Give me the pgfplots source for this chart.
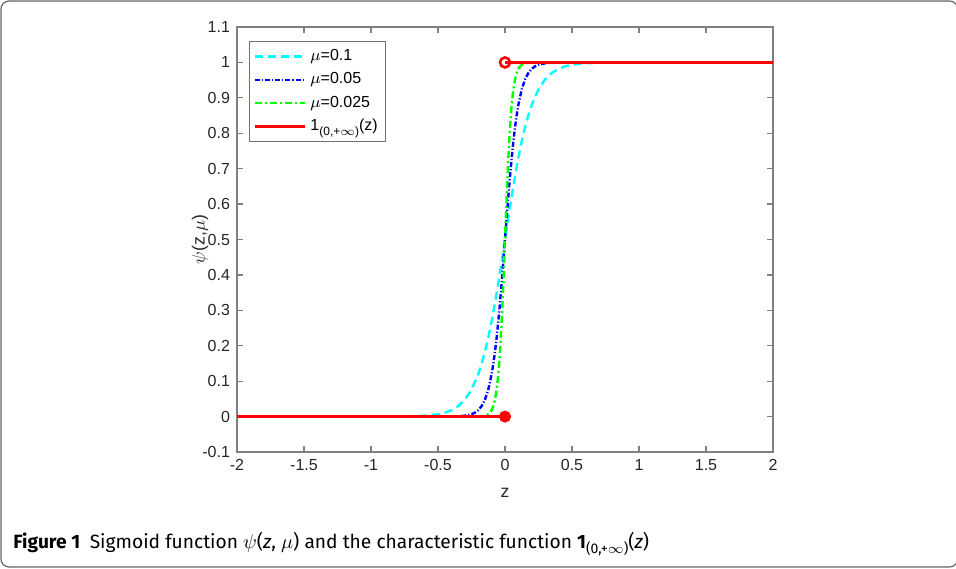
\documentclass[border=0pt]{standalone}
\usepackage{fontspec}
\setmainfont{Liberation Sans}
\newfontfamily\capfont{Fira Sans}
\usepackage{pgfplots}
\pgfplotsset{compat=1.18}
\definecolor{mcyan}{rgb}{0,1,1}
\definecolor{mblue}{rgb}{0,0,1}
\definecolor{mgreen}{rgb}{0,1,0}
\definecolor{mred}{rgb}{1,0,0}

\begin{document}
\begin{tikzpicture}
\useasboundingbox (0,0) rectangle (478pt,284pt);
\draw[black!60, line width=0.6pt, rounded corners=4pt] (0.5pt,0.5pt) rectangle (478.8pt,283.5pt);
\begin{axis}[
  at={(118.5pt,58pt)}, anchor=south west,
  scale only axis, width=268pt, height=212.5pt,
  xmin=-2, xmax=2, ymin=-0.1, ymax=1.1,
  xtick={-2,-1.5,-1,-0.5,0,0.5,1,1.5,2},
  xticklabels={-2,-1.5,-1,-0.5,0,0.5,1,1.5,2},
  ytick={-0.1,0,0.1,0.2,0.3,0.4,0.5,0.6,0.7,0.8,0.9,1,1.1},
  yticklabels={-0.1,0,0.1,0.2,0.3,0.4,0.5,0.6,0.7,0.8,0.9,1,1.1},
  tick align=inside, major tick length=3pt,
  axis line style={black!50, line width=0.6pt},
  every tick/.style={black!50, line width=0.6pt},
  tick label style={font=\fontsize{8}{9}\selectfont, text=black!85},
  xlabel={z}, ylabel={$\psi$(z,$\mu$)},
  label style={font=\fontsize{8.8}{10}\selectfont, text=black!85},
  xlabel style={at={(axis description cs:0.5,-0.0965)}, anchor=center},
  ylabel style={at={(axis description cs:-0.069,0.5)}, anchor=center},
  legend style={at={(rel axis cs:0.022,0.967)}, anchor=north west,
    draw=black!55, line width=0.5pt, font=\fontsize{8}{9}\selectfont,
    inner xsep=2pt, inner ysep=2pt, row sep=0.5pt},
  legend cell align=left,
  legend image code/.code={\draw[#1] (0pt,0pt) -- (25pt,0pt);},
]
% mu = 0.1
\addplot[mcyan, line width=1.2pt, dash pattern=on 4pt off 2.5pt] coordinates {
(-2,0) (-1,0.0000454) (-0.8,0.000335) (-0.7,0.000911) (-0.6,0.002473) (-0.5,0.006693)
(-0.45,0.010987) (-0.4,0.017986) (-0.35,0.029312) (-0.3,0.047426) (-0.25,0.075858)
(-0.2,0.119203) (-0.175,0.148047) (-0.15,0.182426) (-0.125,0.2227) (-0.1,0.268941)
(-0.075,0.320821) (-0.05,0.377541) (-0.025,0.437823) (0,0.5)
(0.025,0.562177) (0.05,0.622459) (0.075,0.679179) (0.1,0.731059) (0.125,0.7773)
(0.15,0.817574) (0.175,0.851953) (0.2,0.880797) (0.25,0.924142) (0.3,0.952574)
(0.35,0.970688) (0.4,0.982014) (0.45,0.989013) (0.5,0.993307) (0.6,0.997527)
(0.7,0.999089) (0.8,0.999665) (1,0.999955) (2,1)};
\addlegendentry{$\mu$=0.1}
% mu = 0.05
\addplot[mblue, line width=1.2pt, dash pattern=on 2.5pt off 1pt on 0.6pt off 1pt] coordinates {
(-2,0) (-0.5,0.0000454) (-0.4,0.000335) (-0.35,0.000911) (-0.3,0.002473) (-0.25,0.006693)
(-0.225,0.010987) (-0.2,0.017986) (-0.175,0.029312) (-0.15,0.047426) (-0.125,0.075858)
(-0.1,0.119203) (-0.0875,0.148047) (-0.075,0.182426) (-0.0625,0.2227) (-0.05,0.268941)
(-0.0375,0.320821) (-0.025,0.377541) (-0.0125,0.437823) (0,0.5)
(0.0125,0.562177) (0.025,0.622459) (0.0375,0.679179) (0.05,0.731059) (0.0625,0.7773)
(0.075,0.817574) (0.0875,0.851953) (0.1,0.880797) (0.125,0.924142) (0.15,0.952574)
(0.175,0.970688) (0.2,0.982014) (0.225,0.989013) (0.25,0.993307) (0.3,0.997527)
(0.35,0.999089) (0.4,0.999665) (0.5,0.999955) (2,1)};
\addlegendentry{$\mu$=0.05}
% mu = 0.025
\addplot[mgreen, line width=1.2pt, dash pattern=on 3.5pt off 1.5pt on 1pt off 1.5pt] coordinates {
(-2,0) (-0.25,0.0000454) (-0.2,0.000335) (-0.175,0.000911) (-0.15,0.002473) (-0.125,0.006693)
(-0.1125,0.010987) (-0.1,0.017986) (-0.0875,0.029312) (-0.075,0.047426) (-0.0625,0.075858)
(-0.05,0.119203) (-0.04375,0.148047) (-0.0375,0.182426) (-0.03125,0.2227) (-0.025,0.268941)
(-0.01875,0.320821) (-0.0125,0.377541) (-0.00625,0.437823) (0,0.5)
(0.00625,0.562177) (0.0125,0.622459) (0.01875,0.679179) (0.025,0.731059) (0.03125,0.7773)
(0.0375,0.817574) (0.04375,0.851953) (0.05,0.880797) (0.0625,0.924142) (0.075,0.952574)
(0.0875,0.970688) (0.1,0.982014) (0.1125,0.989013) (0.125,0.993307) (0.15,0.997527)
(0.175,0.999089) (0.2,0.999665) (0.25,0.999955) (2,1)};
\addlegendentry{$\mu$=0.025}
% characteristic function
\addplot[mred, line width=1.6pt] coordinates {(-2,0) (0,0)};
\addlegendentry{1\raisebox{-0.6ex}{\fontsize{6}{7}\selectfont(0,+$\infty$)}(z)}
\addplot[mred, line width=1.6pt, forget plot] coordinates {(0,1) (2,1)};
\addplot[mred, only marks, mark=*, mark size=2.8pt, forget plot] coordinates {(0,0)};
\addplot[mred, only marks, mark=o, mark size=2.5pt, line width=1.3pt, fill=white, forget plot] coordinates {(0,1)};
\end{axis}
\node[anchor=base west, inner sep=0pt, font=\capfont\fontsize{9.6}{11}\selectfont] at (6.5pt,10pt)
  {\textbf{Figure 1}\hspace{0.5em}Sigmoid function $\psi$(\textit{z}, $\mu$) and the characteristic function \textbf{1}\raisebox{-0.5ex}{\fontsize{7}{8}\selectfont(0,+$\infty$)}(\textit{z})};
\end{tikzpicture}
\end{document}
